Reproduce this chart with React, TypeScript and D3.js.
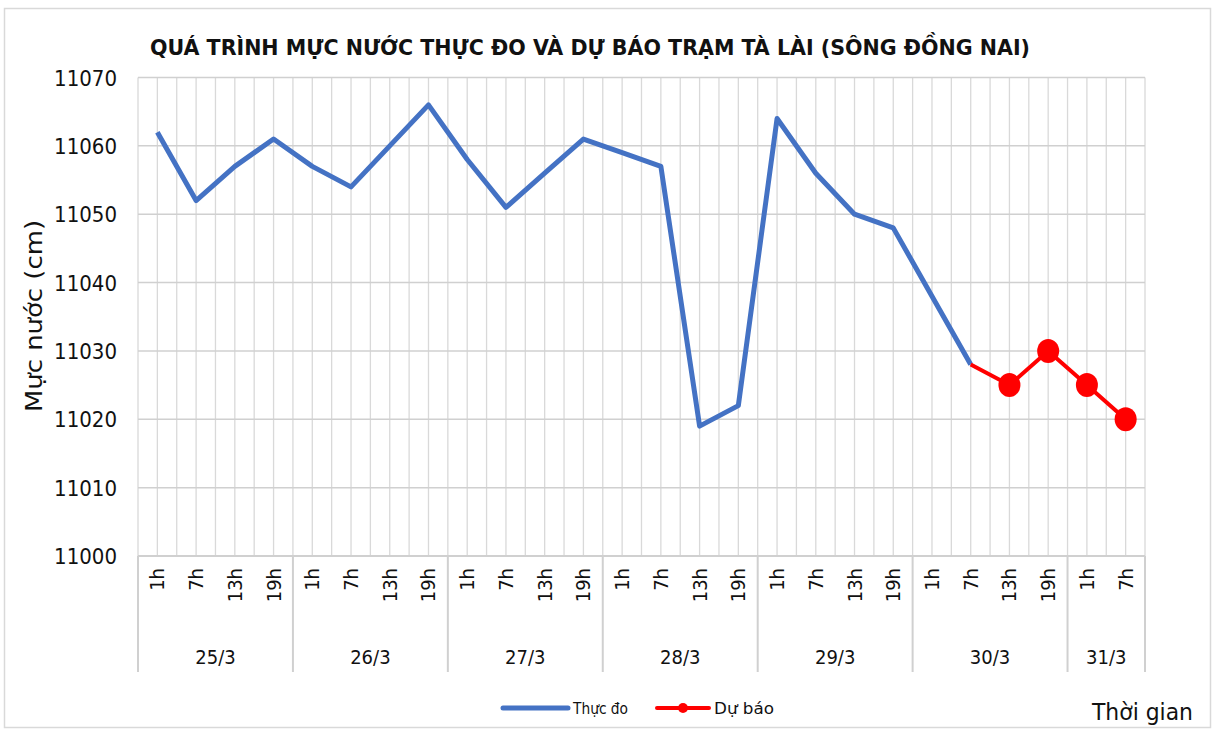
import React from "react";
import * as d3 from "d3";

const days = ["25/3", "26/3", "27/3", "28/3", "29/3", "30/3", "31/3"];
const hoursPerDay = [
  ["1h", "7h", "13h", "19h"],
  ["1h", "7h", "13h", "19h"],
  ["1h", "7h", "13h", "19h"],
  ["1h", "7h", "13h", "19h"],
  ["1h", "7h", "13h", "19h"],
  ["1h", "7h", "13h", "19h"],
  ["1h", "7h"],
];
const observed: (number | null)[] = [
  11062, 11052, 11057, 11061,
  11057, 11054, 11060, 11066,
  11058, 11051, 11056, 11061,
  11059, 11057, 11019, 11022,
  11064, 11056, 11050, 11048,
  11038, 11028, null, null,
  null, null,
];
const forecast: (number | null)[] = [
  null, null, null, null,
  null, null, null, null,
  null, null, null, null,
  null, null, null, null,
  null, null, null, null,
  null, 11028, 11025, 11030,
  11025, 11020,
];
const forecastMarkers = [false, true, true, true, true];
const yTicks = [11000, 11010, 11020, 11030, 11040, 11050, 11060, 11070];

const title = "QUÁ TRÌNH MỰC NƯỚC THỰC ĐO VÀ DỰ BÁO TRẠM TÀ LÀI (SÔNG ĐỒNG NAI)";
const font = "'Liberation Sans Narrow', 'DejaVu Sans Condensed', 'Open Sans', sans-serif";

type Cat = { key: string; day: string; hour: string; idx: number };

export default function App() {
  const cats: Cat[] = [];
  days.forEach((d, di) =>
    hoursPerDay[di].forEach((h) => cats.push({ key: d + "|" + h, day: d, hour: h, idx: cats.length }))
  );

  const left = 138, right = 1145, top = 77.5, bottom = 556;
  const x = d3.scaleBand<string>().domain(cats.map((c) => c.key)).range([left, right]).padding(0);
  const y = d3.scaleLinear().domain([11000, 11070]).range([bottom, top]);
  const bw = x.bandwidth();
  const cx = (i: number) => (x(cats[i].key) as number) + bw / 2;

  const line = d3
    .line<number | null>()
    .defined((v) => v != null)
    .x((_, i) => cx(i))
    .y((v) => y(v as number));

  const vGrid: number[] = [];
  for (let i = 0; i <= cats.length * 2; i++) vGrid.push(left + (bw / 2) * i);

  const groupBounds: number[] = [left];
  const groupCenters: { day: string; c: number }[] = [];
  let start = 0;
  days.forEach((d, di) => {
    const n = hoursPerDay[di].length;
    const x0 = x(cats[start].key) as number;
    const x1 = (x(cats[start + n - 1].key) as number) + bw;
    groupBounds.push(x1);
    groupCenters.push({ day: d, c: (x0 + x1) / 2 });
    start += n;
  });

  const firstF = forecast.findIndex((v) => v != null);

  return (
    <svg width={1215} height={729} style={{ display: "block", position: "absolute", left: 0, top: 0 }}>
      <rect x={0} y={0} width={1215} height={729} fill="#ffffff" />
      <rect x={4.5} y={8.5} width={1206} height={719} fill="#ffffff" stroke="#d9d9d9" strokeWidth={1.5} />
      <text x={590} y={55} textAnchor="middle" fontFamily={font} fontWeight="bold" fontSize={22} fill="#111" textLength={880} lengthAdjust="spacingAndGlyphs">
        {title}
      </text>

      {vGrid.map((gx, i) => (
        <line key={"v" + i} x1={gx} x2={gx} y1={top} y2={bottom} stroke="#d9d9d9" strokeWidth={1.3} />
      ))}
      {yTicks.map((t) => (
        <line key={"h" + t} x1={left} x2={right} y1={y(t)} y2={y(t)} stroke="#d0d0d0" strokeWidth={1.5} />
      ))}

      {yTicks.map((t) => (
        <text key={"yl" + t} x={117} y={y(t) + 8} textAnchor="end" fontFamily={font} fontSize={22} fill="#111">
          {t}
        </text>
      ))}
      <text transform="translate(42,316) rotate(-90)" textAnchor="middle" fontFamily={font} fontSize={23} fill="#111" textLength={192} lengthAdjust="spacingAndGlyphs">
        Mực nước (cm)
      </text>

      <line x1={left} x2={right} y1={bottom} y2={bottom} stroke="#d0d0d0" strokeWidth={2} />
      {groupBounds.map((gx, i) => (
        <line key={"gb" + i} x1={gx} x2={gx} y1={bottom} y2={672} stroke="#d0d0d0" strokeWidth={2} />
      ))}
      {cats.map((c) => (
        <text
          key={"xl" + c.key}
          transform={`translate(${cx(c.idx) + 7},568) rotate(-90)`}
          textAnchor="end"
          fontFamily={font}
          fontSize={20}
          fill="#111"
        >
          {c.hour}
        </text>
      ))}
      {groupCenters.map((g) => (
        <text key={"d" + g.day} x={g.c} y={664} textAnchor="middle" fontFamily={font} fontSize={20} fill="#111">
          {g.day}
        </text>
      ))}

      <path d={line(observed) || ""} fill="none" stroke="#4472c4" strokeWidth={5} strokeLinejoin="round" />
      <path d={line(forecast) || ""} fill="none" stroke="#ff0000" strokeWidth={4} strokeLinejoin="round" />
      {forecast.map((v, i) =>
        v != null && forecastMarkers[i - firstF] ? (
          <ellipse key={"m" + i} cx={cx(i)} cy={y(v)} rx={11} ry={12} fill="#ff0000" />
        ) : null
      )}

      <line x1={503} x2={568} y1={708} y2={708} stroke="#4472c4" strokeWidth={5} strokeLinecap="round" />
      <text x={573} y={714} fontFamily={font} fontSize={16} fill="#111" textLength={55} lengthAdjust="spacingAndGlyphs">Thực đo</text>
      <line x1={657} x2={709} y1={708} y2={708} stroke="#ff0000" strokeWidth={4} strokeLinecap="round" />
      <circle cx={683} cy={708} r={5} fill="#ff0000" />
      <text x={714} y={714} fontFamily={font} fontSize={16} fill="#111" textLength={60} lengthAdjust="spacingAndGlyphs">Dự báo</text>
      <text x={1092} y={720} fontFamily={font} fontSize={23} fill="#111" textLength={101} lengthAdjust="spacingAndGlyphs">Thời gian</text>
    </svg>
  );
}
